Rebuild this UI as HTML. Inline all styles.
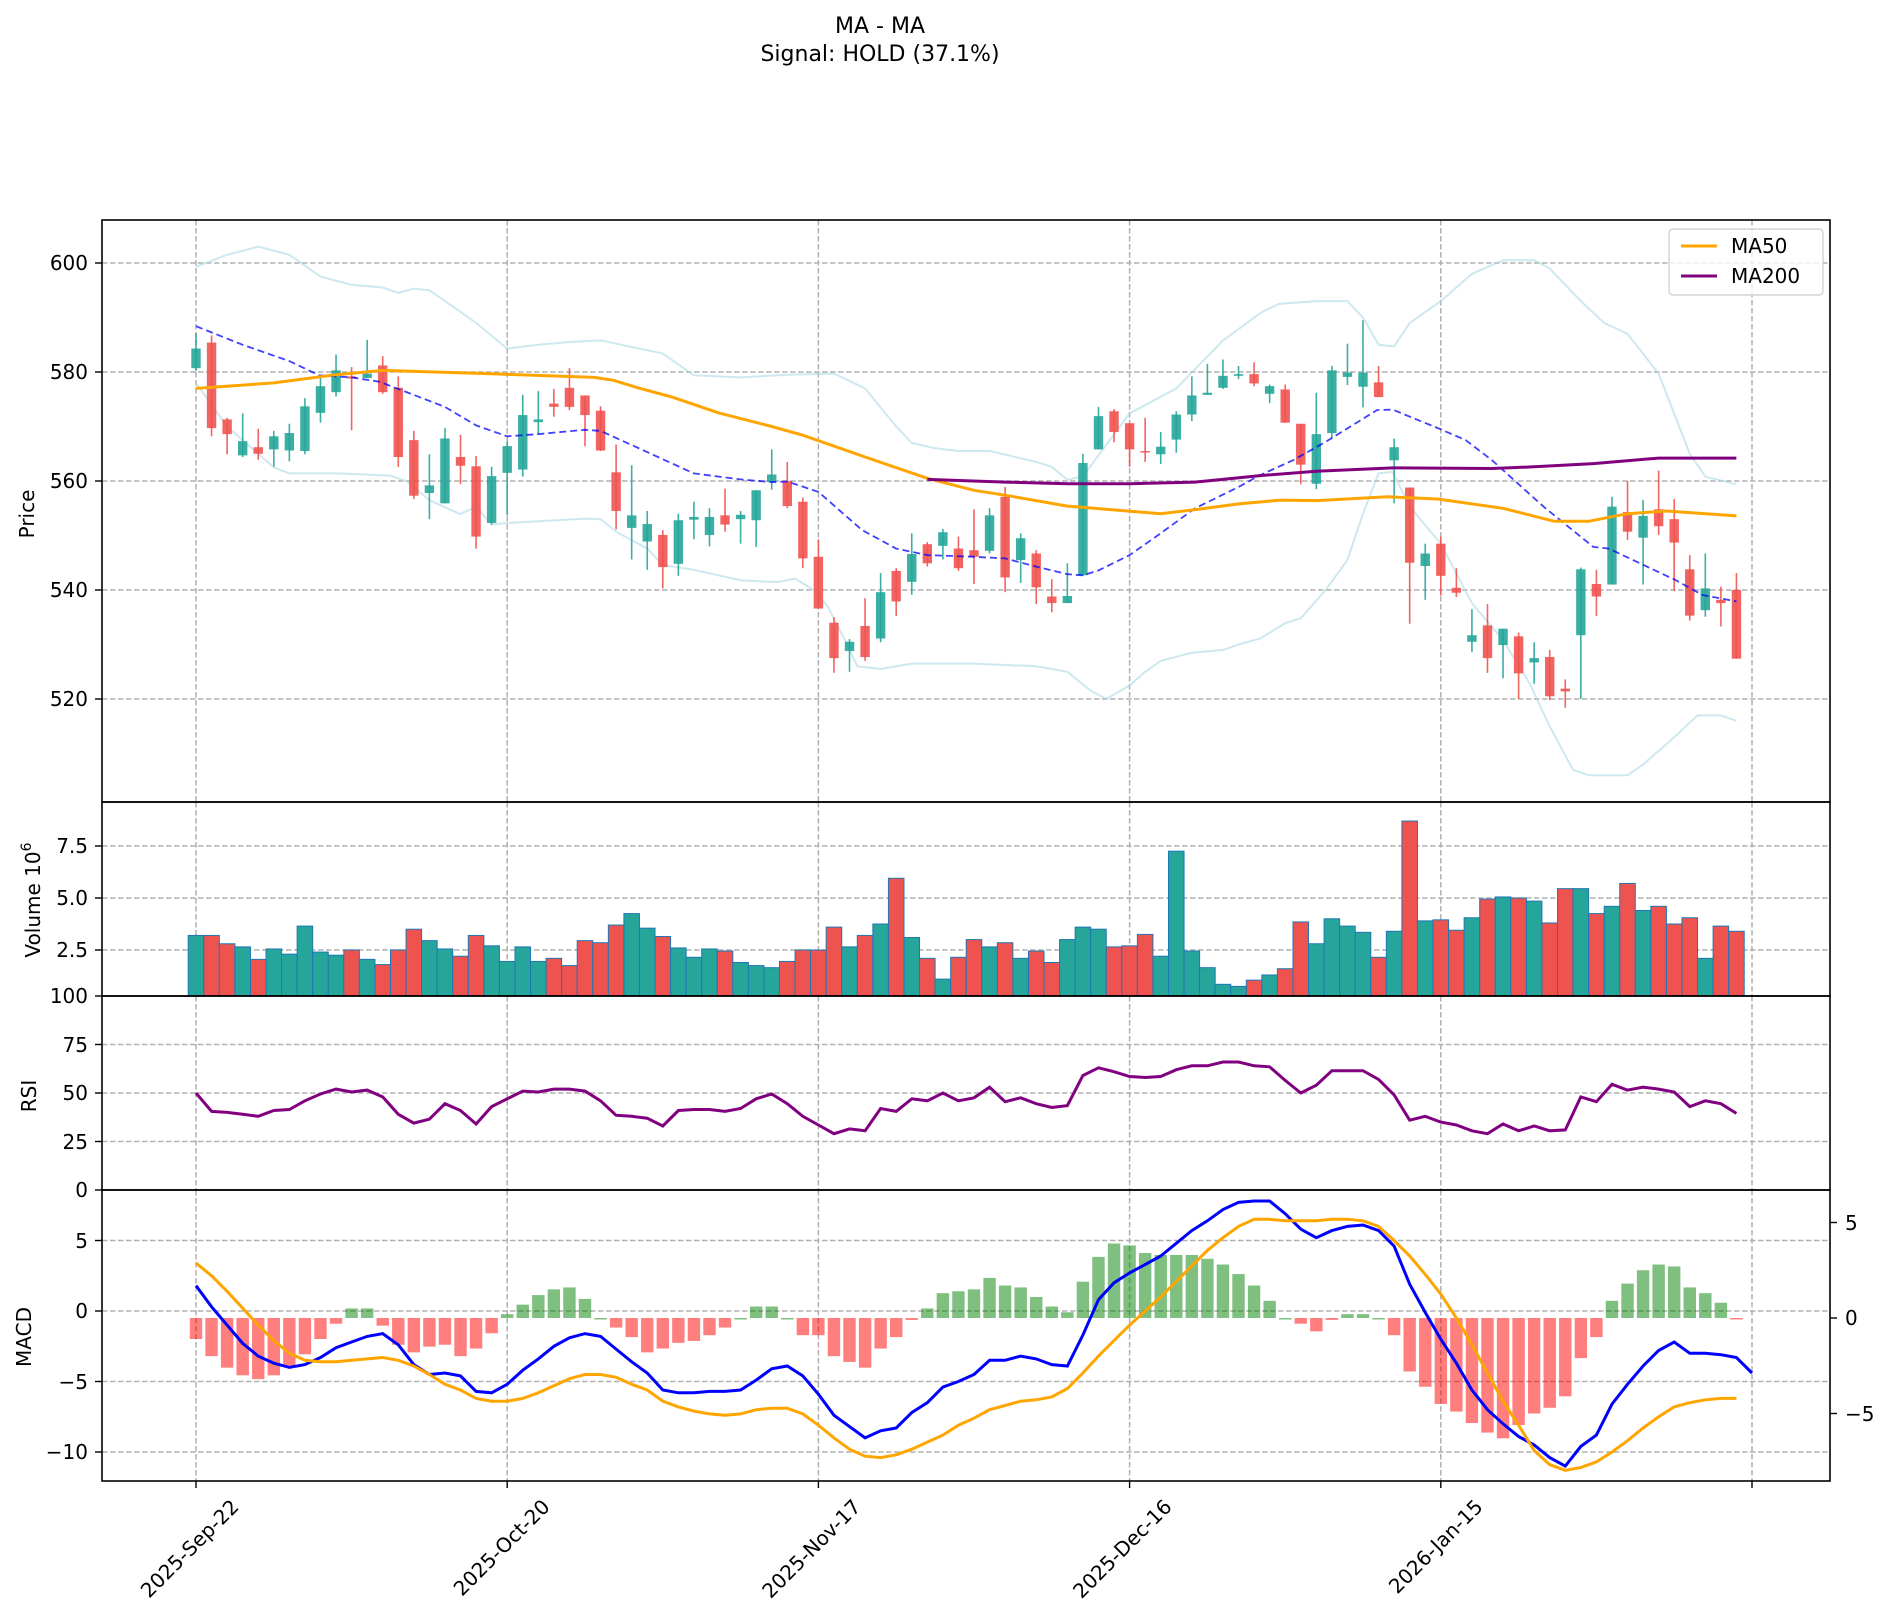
<!DOCTYPE html>
<html><head><meta charset="utf-8">
<style>
html,body{margin:0;padding:0;background:#fff;}
svg{display:block;font-family:"DejaVu Sans","Liberation Sans",sans-serif;}
</style></head>
<body>
<svg id="s" width="1890" height="1620" viewBox="0 0 1890 1620" xmlns="http://www.w3.org/2000/svg">
<rect width="1890" height="1620" fill="#fff"/>
<g id="grid"></g>
<g id="plots"></g>
<g id="axes" stroke="#000" stroke-width="1.6" fill="none">
<rect x="102" y="220" width="1728" height="582"/>
<rect x="102" y="802" width="1728" height="194"/>
<rect x="102" y="996" width="1728" height="194"/>
<rect x="102" y="1190" width="1728" height="291"/>
</g>
<g id="ticks" stroke="#000" stroke-width="1.4"></g>
<g font-size="20" fill="#000" text-anchor="end">
<text x="88" y="270">600</text>
<text x="88" y="379">580</text>
<text x="88" y="488">560</text>
<text x="88" y="597">540</text>
<text x="88" y="706">520</text>
<text x="88" y="853">7.5</text>
<text x="88" y="905">5.0</text>
<text x="88" y="957">2.5</text>
<text x="88" y="1003">100</text>
<text x="88" y="1052">75</text>
<text x="88" y="1100">50</text>
<text x="88" y="1149">25</text>
<text x="88" y="1197">0</text>
<text x="88" y="1248">5</text>
<text x="88" y="1318">0</text>
<text x="88" y="1389">−5</text>
<text x="88" y="1459">−10</text>
</g>
<g font-size="20" fill="#000" text-anchor="start">
<text x="1845" y="1230">5</text>
<text x="1845" y="1325">0</text>
<text x="1845" y="1421">−5</text>
</g>
<g font-size="20" fill="#000" text-anchor="middle">
<text transform="translate(34,514) rotate(-90)">Price</text>
<text transform="translate(40,900) rotate(-90)">Volume  10<tspan font-size="14" dy="-9">6</tspan></text>
<text transform="translate(36,1096) rotate(-90)">RSI</text>
<text transform="translate(31,1337) rotate(-90)">MACD</text>
</g>
<g font-size="20" fill="#000" text-anchor="end">
<text transform="translate(240,1508) rotate(-45)">2025-Sep-22</text>
<text transform="translate(551,1508) rotate(-45)">2025-Oct-20</text>
<text transform="translate(862,1508) rotate(-45)">2025-Nov-17</text>
<text transform="translate(1173,1508) rotate(-45)">2025-Dec-16</text>
<text transform="translate(1484,1508) rotate(-45)">2026-Jan-15</text>
</g>
<g font-size="22" fill="#000" text-anchor="middle">
<text x="880" y="33">MA - MA</text>
<text x="880" y="61">Signal: HOLD (37.1%)</text>
</g>
<g>
<rect x="1669" y="229" width="154" height="66" rx="4" fill="#fff" fill-opacity="0.8" stroke="#cccccc" stroke-width="1.2"/>
<line x1="1681" y1="246" x2="1717" y2="246" stroke="#ffa500" stroke-width="3"/>
<line x1="1681" y1="276" x2="1717" y2="276" stroke="#800080" stroke-width="3"/>
<text x="1731" y="253" font-size="20">MA50</text>
<text x="1731" y="283" font-size="20">MA200</text>
</g>
</svg>
<script>
(function(){
var NS="http://www.w3.org/2000/svg";
function el(p,t,a){var e=document.createElementNS(NS,t);for(var k in a)e.setAttribute(k,a[k]);p.appendChild(e);return e;}
var G=document.getElementById('grid'),P=document.getElementById('plots'),T=document.getElementById('ticks');
var L=102,R=1830,DX=15.56;
function X(i){return 196+DX*i;}
function YP(p){return 263+(600-p)*5.45;}
function YV(v){return 1002-v*20.8;}
function YR(r){return 1190-r*1.94;}
function YM(m){return 1311-m*14.1;}
function YH(h){return 1318-h*19.1;}
var gs={stroke:"#b0b0b0","stroke-width":1.5,"stroke-dasharray":"5.5,2.5",fill:"none"};
function hl(y){var a=Object.assign({x1:L,x2:R,y1:y,y2:y},gs);el(G,'line',a);el(T,'line',{x1:L-7,x2:L,y1:y,y2:y});}
[600,580,560,540,520].forEach(function(p){hl(YP(p));});
[7.5,5,2.5].forEach(function(v){hl(YV(v));});
el(T,'line',{x1:L-7,x2:L,y1:996,y2:996});
[75,50,25].forEach(function(v){hl(YR(v));});
el(T,'line',{x1:L-7,x2:L,y1:1190,y2:1190});
[5,0,-5,-10].forEach(function(v){hl(YM(v));});
[5,0,-5].forEach(function(v){var y=YH(v);el(T,'line',{x1:R,x2:R+7,y1:y,y2:y});});
[0,20,40,60,80,100].forEach(function(i){var x=X(i);
 [[220,802],[802,996],[996,1190],[1190,1481]].forEach(function(s){el(G,'line',Object.assign({x1:x,x2:x,y1:s[0],y2:s[1]},gs));});
 el(T,'line',{x1:x,x2:x,y1:1481,y2:1488});});
var C=[[580.7,584.3,587.1,580.2],[585.4,569.7,586.7,568.2],[571.3,568.6,571.6,564.9],[564.7,567.3,572.4,564.4],[566.2,565.0,569.6,563.9],[565.8,568.2,569.2,562.6],[565.6,568.8,570.5,563.6],[565.5,573.7,575.2,564.9],[572.5,577.4,579.1,570.7],[576.3,580.3,583.2,575.5],
[579.2,578.8,580.9,569.3],[578.9,579.7,585.9,578.9],[581.2,576.3,582.9,576.0],[577.1,564.4,579.2,562.6],[567.5,557.3,569.2,556.7],[557.8,559.2,564.9,553.0],[555.9,567.8,569.7,555.9],[564.4,562.8,568.5,559.4],[562.7,549.8,564.6,547.6],[552.3,560.9,562.6,552.0],
[561.5,566.4,567.3,553.7],[562.1,572.1,575.8,560.8],[570.8,571.3,576.5,568.5],[574.2,573.6,576.9,571.8],[577.1,573.6,580.7,573.0],[575.7,572.1,575.7,566.4],[572.9,565.6,573.7,565.5],[561.6,554.5,566.7,551.1],[551.4,553.7,562.9,545.6],[548.9,552.1,554.5,543.7],
[550.1,544.2,551.0,540.3],[544.8,552.8,554.0,542.6],[552.9,553.4,556.2,549.3],[550.1,553.4,555.0,548.0],[553.7,552.0,558.6,550.7],[553.0,553.8,554.5,548.5],[552.8,558.3,558.3,547.9],[559.8,561.2,565.8,558.4],[560.0,555.4,563.5,555.0],[556.2,545.8,557.0,544.0],
[546.1,536.6,549.3,536.6],[534,527.5,535,524.8],[528.8,530.5,531,525],[533.4,527.7,538.5,527],[531.1,539.6,543.1,530.4],[543.5,537.9,544.0,535.2],[541.5,546.6,550.4,539.1],[548.4,544.9,548.8,544.3],[548.1,550.6,551.2,545.6],[547.6,544.0,549.8,543.5],
[547.3,546.1,554.8,541.1],[547.2,553.7,555.0,546.7],[557.1,542.3,558.9,539.6],[545.5,549.5,550.4,541.3],[546.7,540.5,547.3,537.4],[538.8,537.6,542.0,535.9],[537.6,538.9,544.9,537.6],[542.7,563.3,565.0,542.6],[565.8,571.9,573.6,565.8],[572.8,569.0,573.2,567.1],
[570.6,565.8,570.6,562.6],[565.5,565.3,571.6,563.5],[564.9,566.3,569.0,563.1],[567.6,572.2,572.8,565.2],[572.2,575.7,579.2,571.0],[575.8,576.2,581.5,575.8],[577.1,579.3,582.3,576.9],[579.3,579.6,581.1,578.7],[579.6,577.9,581.8,577.4],[576.0,577.4,577.7,574.3],
[576.8,570.7,577.7,570.7],[570.5,563.0,570.5,559.4],[559.5,568.6,576.2,558.5],[568.8,580.3,581.1,567.9],[579.1,579.9,585.2,577.6],[577.3,579.9,589.5,573.5],[578.1,575.4,581.1,575.4],[563.8,566.2,567.8,555.9],[558.8,545.0,558.8,533.8],[544.4,546.7,548.5,538.2],
[548.5,542.6,549.8,539.0],[540.4,539.5,544.0,538.7],[530.5,531.7,536.5,528.6],[533.5,527.5,537.4,524.8],[529.9,532.9,532.9,523.8],[531.5,524.7,532.2,520],[526.7,527.5,530.4,522.8],[527.7,520.5,529.0,519.8],[521.9,521.4,523.6,518.4],[531.7,543.8,544.1,520],
[541.1,538.8,543.7,535.2],[541.0,555.3,557.1,541.0],[554.3,550.7,560.0,549.2],[549.6,553.6,556.5,541.0],[554.8,551.7,561.9,550.1],[553.0,548.7,556.7,539.8],[543.8,535.3,546.4,534.4],[536.3,540.3,546.7,535.1],[538.2,537.6,540.6,533.3],[540.0,527.4,543.1,527.4]];
var V=[3.2,3.2,2.8,2.65,2.05,2.55,2.3,3.65,2.4,2.25,2.5,2.05,1.8,2.5,3.5,2.95,2.55,2.2,3.2,2.7,1.95,2.65,1.95,2.1,1.75,2.95,2.85,3.7,4.25,3.55,3.15,2.6,2.15,2.55,2.45,1.9,1.75,1.65,1.95,2.5,2.5,3.6,2.65,3.2,3.75,5.95,3.1,2.1,1.1,2.15,3.0,2.65,2.85,2.1,2.45,1.9,3.0,3.6,3.5,2.65,2.7,3.25,2.2,7.25,2.45,1.65,0.85,0.75,1.05,1.3,1.6,3.85,2.8,4.0,3.65,3.35,2.15,3.4,8.7,3.9,3.95,3.45,4.05,4.95,5.05,5.0,4.85,3.8,5.45,5.45,4.25,4.6,5.7,4.4,4.6,3.75,4.05,2.1,3.65,3.4];
var TE="#26a69a",RD="#ef5350";
function line(pts,fy,attrs){var d=pts.map(function(p,k){return (k?'L':'M')+X(p[0]).toFixed(1)+','+fy(p[1]).toFixed(1);}).join('');var a=Object.assign({d:d,fill:'none'},attrs);el(P,'path',a);}
var bbU=[[0,599.3],[2,601.5],[4,603],[6,601.5],[8,597.5],[10,596],[12,595.5],[13,594.5],[14,595.3],[15,595],[16,593],[18,589],[20,584.3],[22,585],[24,585.5],[26,585.8],[29,584],[30,583.4],[32,579.4],[35,579],[38,579.5],[41,579.7],[43,577],[45,570],[46,567],[47.5,566],[49,565.5],[51,565.5],[54,563.5],[55,562.6],[56,560.2],[57,560.9],[58,564.7],[60,572.4],[63,577],[66,585.8],[68.5,591],[69.6,592.5],[72,593],[74,593],[75,590],[76,585],[77,584.7],[78,589],[80,593],[82,598],[84,600.5],[86,600.5],[87,599],[89,593],[90.5,589],[92,587],[94,579.7],[96,565],[97,560.8],[99,559.4]];
var bbL=[[0,578],[2,570],[4,565],[5,562.5],[6,561.4],[9,561.4],[12.5,561],[13.5,560],[15,556.5],[17,553.9],[18,555.3],[19,552],[20,552.3],[25,553.1],[26,553],[27,550.7],[29,547.6],[30,544.6],[32,543.7],[35,541.8],[36.7,541.5],[37.5,541.5],[38.5,542.1],[39.7,540],[40.6,537],[41.7,530.8],[42.5,526],[44,525.5],[46,526.5],[50,526.5],[54,526],[56,525],[57.5,521.5],[58.5,520],[60,522.5],[61,525],[62,527],[64,528.5],[66,529],[67,530],[68.4,531.1],[70,533.9],[71,534.8],[72.6,540],[74,545.5],[75,554],[76,561.4],[76.9,561.7],[78,555.3],[80,548.5],[82,537.6],[84,530.8],[85.7,522.9],[87,515],[88.5,507],[89.5,506],[92,506],[93,508],[95,513],[96.5,517],[98,517],[99,516]];
var bbM=[[0,588.4],[3,585],[6,582],[7.9,579.4],[10,579],[11.8,578.2],[16,573.6],[18,570.2],[20,568.2],[22,568.6],[25,569.4],[26,569.2],[29,565.3],[32,561.4],[35,560.3],[37,559.8],[38,559.9],[40,558],[42.8,551],[45,547.6],[47,546.4],[50,546.1],[52,545.8],[54,544.3],[56,542.9],[57,542.7],[58,543.6],[60,546.4],[62,550.4],[64.2,555],[67,558.9],[68.4,561.1],[70.5,563.8],[72.6,567.2],[75.9,573],[76.9,573.1],[79.9,569.6],[81.6,567.5],[83.3,563.8],[86.6,555.3],[89.8,547.9],[90.8,547.6],[95.1,541.8],[96.8,539.1],[99,537.9]];
line(bbU,YP,{stroke:"#add8e6","stroke-width":2,"stroke-opacity":0.6});
line(bbL,YP,{stroke:"#add8e6","stroke-width":2,"stroke-opacity":0.6});
C.forEach(function(c,i){var x=X(i),up=c[1]>=c[0],col=up?TE:RD;
 el(P,'line',{x1:x,x2:x,y1:YP(c[2]),y2:YP(c[3]),stroke:col,"stroke-width":1.6,"stroke-opacity":0.9});
 var t=YP(Math.max(c[0],c[1])),b=YP(Math.min(c[0],c[1]));if(b-t<1.5){b=t+1.5;}
 el(P,'rect',{x:x-4.7,y:t,width:9.4,height:b-t,fill:col,"fill-opacity":0.9});
 var vt=Math.max(YV(V[i]),802);
 el(P,'rect',{x:x-DX/2,y:vt,width:DX,height:996-vt,fill:col,stroke:"#1f77b4","stroke-width":1});
});
line(bbM,YP,{stroke:"#0000ff","stroke-width":1.8,"stroke-opacity":0.75,"stroke-dasharray":"7,4"});
var ma50=[[0,577],[5,578],[9,579.5],[12,580.3],[18.7,579.7],[25.6,579],[26.8,578.5],[28.4,577.1],[30.6,575.4],[33.6,572.5],[37,570],[39,568.4],[43,564.4],[47,560.5],[50,558.3],[52,557.4],[56,555.4],[62,554],[64.4,554.8],[67,555.8],[69.7,556.5],[72,556.4],[76.6,557.1],[79.8,556.7],[84,555],[87.3,552.6],[89.5,552.6],[92,554],[94.5,554.5],[99,553.6]];
var ma200=[[47,560.3],[52,559.8],[56,559.5],[60,559.5],[64.2,559.8],[68.4,561],[72,561.8],[76.9,562.4],[83.3,562.3],[86,562.6],[89.8,563.2],[94,564.2],[99,564.2]];
line(ma50,YP,{stroke:"#ffa500","stroke-width":3});
line(ma200,YP,{stroke:"#800080","stroke-width":3});
var RS=[50,40.5,40,39,38,41,41.5,46,49.5,52,50.5,51.5,48,39,34.5,36.5,44.5,41,34,43,47,51,50.5,52,52,51,46,38.5,38,37,33,41,41.5,41.5,40.5,42,47,49.5,44.5,38,33.5,29,31.5,30.5,42,40.5,47,46,50,46,47.5,53,45.5,47.5,44.5,42.5,43.5,59,63,61,58.5,58,58.5,62,64,64,66,66,64,63.5,56.5,50,54,61.5,61.5,61.5,57,49,36,38,35,33.5,30.5,29,34,30.5,33,30.5,31,48,45.5,54.5,51.5,53,52,50.5,43,46,44.5,39.5];
line(RS.map(function(v,i){return [i,v];}),YR,{stroke:"#800080","stroke-width":3});
var H=[-1.1,-2.0,-2.6,-3.0,-3.2,-3.0,-2.5,-1.9,-1.1,-0.3,0.5,0.5,-0.4,-1.4,-1.8,-1.5,-1.4,-2.0,-1.6,-0.8,0.2,0.7,1.2,1.5,1.6,1.0,0,-0.5,-1.0,-1.8,-1.6,-1.3,-1.2,-0.9,-0.5,0,0.6,0.6,0,-0.9,-0.9,-2.0,-2.3,-2.6,-1.6,-1.0,-0.1,0.5,1.3,1.4,1.5,2.1,1.7,1.6,1.1,0.6,0.3,1.9,3.2,3.9,3.8,3.4,3.3,3.3,3.3,3.1,2.8,2.3,1.7,0.9,0,-0.3,-0.7,-0.1,0.2,0.2,0,-0.9,-2.8,-3.6,-4.5,-4.9,-5.5,-6.0,-6.3,-5.6,-5.0,-4.7,-4.1,-2.1,-1.0,0.9,1.8,2.5,2.8,2.7,1.6,1.3,0.8,-0.05];
H.forEach(function(h,i){var x=X(i),y0=YH(0),y1=YH(h);var t=Math.min(y0,y1),hh=Math.max(Math.abs(y1-y0),1.5);
 el(P,'rect',{x:x-6.2,y:t,width:12.4,height:hh,fill:h>=0?"#008000":"#ff0000","fill-opacity":0.5});});
var M=[1.8,0.3,-1.0,-2.3,-3.2,-3.7,-4.0,-3.8,-3.3,-2.6,-2.2,-1.8,-1.6,-2.4,-3.8,-4.5,-4.4,-4.6,-5.7,-5.8,-5.2,-4.2,-3.4,-2.5,-1.9,-1.6,-1.8,-2.7,-3.6,-4.4,-5.6,-5.8,-5.8,-5.7,-5.7,-5.6,-4.9,-4.1,-3.9,-4.6,-5.9,-7.4,-8.2,-9.0,-8.5,-8.3,-7.2,-6.5,-5.4,-5.0,-4.5,-3.5,-3.5,-3.2,-3.4,-3.8,-3.9,-1.7,0.8,2.0,2.7,3.3,3.9,4.8,5.7,6.4,7.2,7.7,7.8,7.8,6.9,5.8,5.2,5.7,6.0,6.1,5.7,4.6,1.9,-0.1,-2.0,-3.7,-5.6,-7.0,-8.0,-8.9,-9.5,-10.4,-11.0,-9.6,-8.8,-6.6,-5.2,-3.9,-2.8,-2.2,-3.0,-3.0,-3.1,-3.3,-4.4];
var S=[3.4,2.5,1.4,0.2,-1.0,-2.1,-3.0,-3.5,-3.6,-3.6,-3.5,-3.4,-3.3,-3.5,-3.9,-4.5,-5.2,-5.6,-6.2,-6.4,-6.4,-6.2,-5.8,-5.3,-4.8,-4.5,-4.5,-4.7,-5.2,-5.6,-6.4,-6.8,-7.1,-7.3,-7.4,-7.3,-7.0,-6.9,-6.9,-7.3,-8.1,-9.0,-9.8,-10.3,-10.4,-10.2,-9.8,-9.3,-8.8,-8.1,-7.6,-7.0,-6.7,-6.4,-6.3,-6.1,-5.5,-4.4,-3.2,-2.1,-1.0,0.0,1.0,2.1,3.2,4.3,5.2,6.0,6.5,6.5,6.4,6.4,6.4,6.5,6.5,6.4,6.0,5.0,3.9,2.6,1.2,-0.5,-2.4,-4.4,-6.4,-8.1,-9.9,-10.9,-11.3,-11.1,-10.7,-10.0,-9.2,-8.3,-7.5,-6.8,-6.5,-6.3,-6.2,-6.2];
line(M.map(function(v,i){return [i,v];}),YM,{stroke:"#0000ff","stroke-width":3});
line(S.map(function(v,i){return [i,v];}),YM,{stroke:"#ffa500","stroke-width":3});
})();
</script>
</body></html>
